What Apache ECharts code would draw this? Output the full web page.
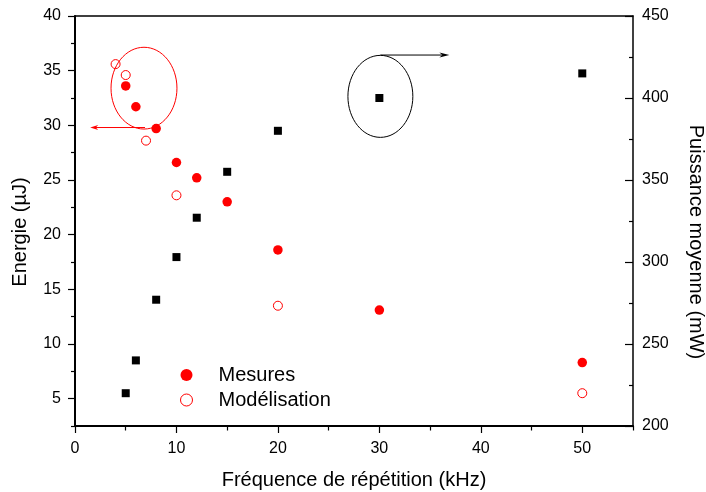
<!DOCTYPE html>
<html><head><meta charset="utf-8">
<script src="https://cdn.jsdelivr.net/npm/echarts@6/dist/echarts.min.js"></script>
<style>html,body{margin:0;padding:0;background:#fff}#c{width:706px;height:492px}</style>
</head><body><div id="c"></div>
<script>
// ---- data ----
const freqMesures = [5, 6, 8, 10, 12, 15, 20, 30, 50];
const energieMesures = [33.6, 31.7, 29.7, 26.6, 25.2, 23.0, 18.6, 13.1, 8.3];
const freqModel = [4, 5, 7, 10, 20, 50];
const energieModel = [35.6, 34.6, 28.6, 23.6, 13.5, 5.5];
const freqPuissance = [5, 6, 8, 10, 12, 15, 20, 30, 50];
const puissance = [220, 240, 277, 303, 327, 355, 380, 400, 415];
// ---- ticks ----
const xMajorTicks = [0, 10, 20, 30, 40, 50];
const xMinorTicks = [5, 15, 25, 35, 45, 55];
const yLeftMajor = [5, 10, 15, 20, 25, 30, 35, 40];
const yLeftMinor = [2.5, 7.5, 12.5, 17.5, 22.5, 27.5, 32.5, 37.5];
const yRightMajor = [200, 250, 300, 350, 400, 450];
const yRightMinor = [225, 275, 325, 375, 425];
const legendNames = ['Mesures', 'Modélisation'];

const FONT = '"Liberation Sans", Arial, Helvetica, sans-serif';
const BLACK = '#000';
const RED = '#ff0000';

const chart = echarts.init(document.getElementById('c'), null, {renderer: 'canvas'});

function zip(a, b) { return a.map((v, i) => [v, b[i]]); }

const option = {
  animation: false,
  backgroundColor: '#fff',
  textStyle: {fontFamily: FONT},
  grid: {left: 75, right: 73, top: 16, bottom: 66, containLabel: false, outerBoundsMode: 'none'},
  legend: {
    data: legendNames,
    orient: 'vertical',
    left: 175, top: 360,
    itemWidth: 54, itemHeight: 12, itemGap: 5,
    itemStyle: {borderWidth: 1},
    textStyle: {fontSize: 20, color: BLACK, fontFamily: FONT},
    selectedMode: false
  },
  xAxis: [
    {
      type: 'value', position: 'bottom', min: 0, max: 55,
      name: 'Fréquence de répétition (kHz)', nameLocation: 'middle', nameGap: 44,
      nameTextStyle: {fontSize: 20, color: BLACK, fontFamily: FONT},
      axisLine: {show: true, onZero: false, lineStyle: {color: BLACK, width: 2}},
      axisTick: {show: true, customValues: xMajorTicks, length: 7, lineStyle: {color: BLACK, width: 1.2}},
      axisLabel: {show: true, customValues: xMajorTicks, margin: 15, fontSize: 16, color: BLACK, fontFamily: FONT},
      splitLine: {show: false}
    },
    {
      type: 'value', position: 'bottom', offset: 0, min: 0, max: 55,
      axisLine: {show: false, onZero: false},
      axisTick: {show: true, customValues: xMinorTicks, length: 4.5, lineStyle: {color: BLACK, width: 1.2}},
      axisLabel: {show: false},
      splitLine: {show: false}
    },
    {
      type: 'value', position: 'top', offset: 0, min: 0, max: 55,
      axisLine: {show: true, onZero: false, lineStyle: {color: BLACK, width: 1.5}},
      axisTick: {show: false}, axisLabel: {show: false}, splitLine: {show: false}
    }
  ],
  yAxis: [
    {
      type: 'value', position: 'left', min: 2.5, max: 40,
      name: 'Energie (µJ)', nameLocation: 'middle', nameGap: 45,
      nameTextStyle: {fontSize: 20, color: BLACK, fontFamily: FONT, padding: [0, 22, 0, 0]},
      axisLine: {show: true, onZero: false, lineStyle: {color: BLACK, width: 2}},
      axisTick: {show: true, customValues: yLeftMajor, length: 7, lineStyle: {color: BLACK, width: 1.2}},
      axisLabel: {show: true, customValues: yLeftMajor, margin: 14, fontSize: 16, color: BLACK, fontFamily: FONT},
      splitLine: {show: false}
    },
    {
      type: 'value', position: 'left', offset: 0, min: 2.5, max: 40,
      axisLine: {show: false, onZero: false},
      axisTick: {show: true, customValues: yLeftMinor, length: 4, lineStyle: {color: BLACK, width: 1.2}},
      axisLabel: {show: false}, splitLine: {show: false}
    },
    {
      type: 'value', position: 'right', offset: 0, min: 200, max: 450,
      name: 'Puissance moyenne (mW)', nameLocation: 'middle', nameGap: 53, nameRotate: -90,
      nameTextStyle: {fontSize: 20, color: BLACK, fontFamily: FONT, padding: [0, 0, 0, 42]},
      axisLine: {show: true, onZero: false, lineStyle: {color: BLACK, width: 1.5}},
      axisTick: {show: true, inside: true, customValues: yRightMajor, length: 8, lineStyle: {color: BLACK, width: 1.2}},
      axisLabel: {show: true, customValues: yRightMajor, margin: 9, fontSize: 16, color: BLACK, fontFamily: FONT},
      splitLine: {show: false}
    },
    {
      type: 'value', position: 'right', offset: 0, min: 200, max: 450,
      axisLine: {show: false, onZero: false},
      axisTick: {show: true, inside: true, customValues: yRightMinor, length: 4, lineStyle: {color: BLACK, width: 1.2}},
      axisLabel: {show: false}, splitLine: {show: false}
    }
  ],
  series: [
    {
      name: 'Mesures', type: 'scatter', xAxisIndex: 0, yAxisIndex: 0,
      symbol: 'circle', symbolSize: 9.5,
      itemStyle: {color: RED, opacity: 1},
      data: zip(freqMesures, energieMesures)
    },
    {
      name: 'Modélisation', type: 'scatter', xAxisIndex: 0, yAxisIndex: 0,
      symbol: 'circle', symbolSize: 9,
      itemStyle: {color: '#fff', borderColor: RED, borderWidth: 1, opacity: 1},
      data: zip(freqModel, energieModel)
    },
    {
      name: 'Puissance', type: 'scatter', xAxisIndex: 0, yAxisIndex: 2,
      symbol: 'rect', symbolSize: 8,
      itemStyle: {color: BLACK, opacity: 1},
      data: zip(freqPuissance, puissance)
    }
  ]
};
chart.setOption(option);

// ---- annotations (anchored in data space) ----
const L = {xAxisIndex: 0, yAxisIndex: 0};
const R = {xAxisIndex: 0, yAxisIndex: 2};
function px(f, p) { return chart.convertToPixel(f, p); }
function ellipse(f, c, rxU, ryU, color) {
  const pc = px(f, c), px1 = px(f, [c[0] + rxU, c[1]]), py1 = px(f, [c[0], c[1] + ryU]);
  return {type: 'ellipse', silent: true, z: 10,
    shape: {cx: pc[0], cy: pc[1], rx: Math.abs(px1[0] - pc[0]), ry: Math.abs(py1[1] - pc[1])},
    style: {fill: 'none', stroke: color, lineWidth: 1}};
}
function arrow(f, a, b, color, hl, hw) {
  const p1 = px(f, a), p2 = px(f, b);
  const dir = Math.sign(p2[0] - p1[0]);
  return [
    {type: 'line', silent: true, z: 10, shape: {x1: p1[0], y1: p1[1], x2: p2[0] - dir * hl * 0.6, y2: p2[1]},
      style: {stroke: color, lineWidth: 1}},
    {type: 'polygon', silent: true, z: 10,
      shape: {points: [[p2[0], p2[1]], [p2[0] - dir * hl, p2[1] - hw], [p2[0] - dir * hl * 0.7, p2[1]], [p2[0] - dir * hl, p2[1] + hw]]},
      style: {fill: color}}
  ];
}
const graphics = [
  ellipse(L, [6.8, 33.4], 3.25, 3.74, RED),
  ...arrow(L, [6.9, 29.8], [1.5, 29.8], RED, 8, 2.5),
  ellipse(R, [30.1, 401], 3.2, 25, BLACK),
  ...arrow(R, [30.1, 426.2], [36.9, 426.2], BLACK, 10, 2.5)
];
chart.setOption({graphic: graphics});
</script>
</body></html>
